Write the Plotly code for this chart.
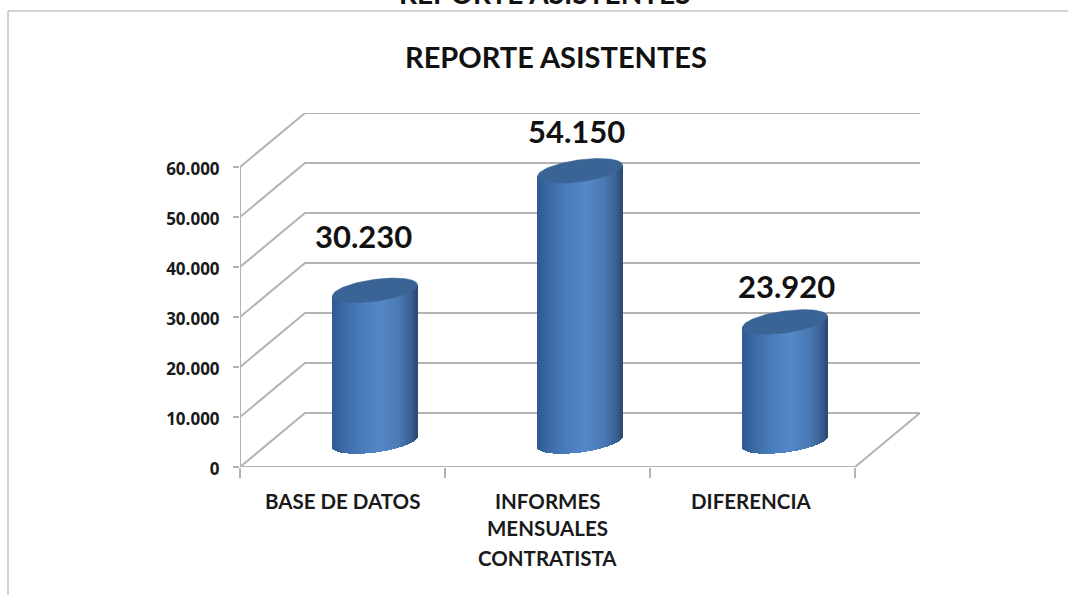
import numpy as np
import plotly.graph_objects as go

# ---- data ----
categories = ["BASE DE DATOS", "INFORMES<br>MENSUALES<br>CONTRATISTA", "DIFERENCIA"]
values = [30230, 54150, 23920]
value_labels = ["30.230", "54.150", "23.920"]
tick_values = [0, 10000, 20000, 30000, 40000, 50000, 60000]
tick_labels = ["0", "10.000", "20.000", "30.000", "40.000", "50.000", "60.000"]
title_text = "REPORTE ASISTENTES"

# ---- layout constants (pixels) ----
W, H = 1068, 595
L, R, T, B = 240, 920, 113, 467
CAT_PX = 205.0            # pixels per category
VAL_PX = 50.0 / 10000.0   # pixels per unit
DEPTH_X = 65.0 / CAT_PX   # depth offset of the back wall, in category units
DEPTH_Y = 54.0 / VAL_PX   # depth offset of the back wall, in value units
XMIN, XMAX = -0.5, 2.5 + DEPTH_X
YMAX = (B - T) / VAL_PX
GRID = "#b3b3b3"
FONT = "Lato"
label_shift_x = [-12, -4, 1]
label_shift_y = [54, 40, 36]
cat_shift_x = [0, 0, -2]
cat_line_y = [34, 61, 91]

fig = go.Figure()

# walls and floor
gx, gy = [], []
for v in tick_values:
    gx += [-0.5, -0.5 + DEPTH_X, XMAX, None]
    gy += [v, v + DEPTH_Y, v + DEPTH_Y, None]
gx += [-0.5, 2.5, XMAX, None, -0.5, -0.5]
gy += [0, 0, DEPTH_Y, None, 0, max(tick_values)]
fig.add_trace(go.Scatter(x=gx, y=gy, mode="lines", cliponaxis=False, hoverinfo="skip",
                         line=dict(color=GRID, width=2), showlegend=False))

# cylinders
half_w = 42.5 / CAT_PX
skew = 5.5 / VAL_PX
minor = 11.0 / VAL_PX
floor_mid = 5100.0
offset_x = DEPTH_X / 2
stops = [0.0, 0.12, 0.35, 0.58, 0.8, 0.94, 1.0]
reds = [0x2f, 0x3a, 0x4a, 0x55, 0x4a, 0x38, 0x29]
greens = [0x5a, 0x68, 0x7d, 0x88, 0x78, 0x5e, 0x49]
blues = [0x92, 0xa3, 0xbc, 0xc9, 0xb3, 0x90, 0x70]

N = 85
fr = (np.arange(N) + 0.5) / N
u = 2 * fr - 1
strip_colors = [
    "rgb(%d,%d,%d)" % (np.interp(f, stops, reds), np.interp(f, stops, greens), np.interp(f, stops, blues))
    for f in fr
]
for i, v in enumerate(values):
    cx = i + offset_x
    bottom = floor_mid + skew * u - minor * np.sqrt(1 - u**2)
    top = floor_mid + v + skew * u
    fig.add_trace(go.Bar(x=cx + u * half_w, y=top - bottom, base=bottom,
                         width=2.4 * half_w / N, xaxis="x2", yaxis="y2",
                         marker=dict(color=strip_colors, line=dict(width=0)),
                         hoverinfo="skip", showlegend=False))
t = np.linspace(0, 2 * np.pi, 121)
for i, v in enumerate(values):
    cx = i + offset_x
    fig.add_trace(go.Scatter(
        x=cx + half_w * np.cos(t),
        y=floor_mid + v + skew * np.cos(t) + minor * np.sin(t),
        mode="lines", fill="toself", fillcolor="#3a6496",
        line=dict(color="#3a6496", width=0.5),
        xaxis="x2", yaxis="y2", hoverinfo="skip", showlegend=False))

annotations = []
for i, v in enumerate(values):
    annotations.append(dict(x=i + offset_x, y=v + floor_mid, xref="x", yref="y",
                            xshift=label_shift_x[i], yshift=label_shift_y[i],
                            text=value_labels[i], showarrow=False, xanchor="center", yanchor="middle",
                            font=dict(family=FONT, size=31, color="#111111", weight=700)))
for i, c in enumerate(categories):
    for j, line in enumerate(c.split("<br>")):
        annotations.append(dict(x=i, y=0, xref="x", yref="y", xshift=cat_shift_x[i], yshift=-cat_line_y[j],
                                text=line, showarrow=False, xanchor="center", yanchor="middle",
                                font=dict(family=FONT, size=20.5, color="#1a1a1a", weight=700)))

def px(x):
    return (x - L) / (R - L)
def py(y):
    return (B - y) / (B - T)

# chart title and the cut-off title above the frame
annotations.append(dict(x=px(556), y=py(57), xref="paper", yref="paper",
                        text=title_text, showarrow=False, xanchor="center", yanchor="middle",
                        font=dict(family=FONT, size=29, color="#111111", weight=700)))
annotations.append(dict(x=px(545), y=py(12), xref="paper", yref="paper",
                        text=title_text, showarrow=False, xanchor="center", yanchor="bottom",
                        font=dict(family=FONT, size=28, color="#111111", weight=700)))

frame = [
    dict(type="line", xref="paper", yref="paper", x0=px(8), x1=px(W), y0=py(11), y1=py(11),
         line=dict(color="#c4c4c4", width=1.5)),
    dict(type="line", xref="paper", yref="paper", x0=px(8), x1=px(8), y0=py(11), y1=py(H),
         line=dict(color="#c4c4c4", width=1.5)),
]

fig.update_layout(
    width=W, height=H, paper_bgcolor="white", plot_bgcolor="white",
    margin=dict(l=L, r=W - R, t=T, b=H - B, autoexpand=False),
    barmode="overlay", bargap=0, showlegend=False,
    annotations=annotations, shapes=frame,
    xaxis=dict(range=[XMIN, XMAX], showgrid=False, zeroline=False, showline=False,
               tickmode="linear", tick0=-0.5, dtick=1, ticks="outside", ticklen=10,
               tickcolor=GRID, tickwidth=1.5, showticklabels=False),
    yaxis=dict(range=[0, YMAX], showgrid=False, zeroline=False, showline=False,
               tickmode="array", tickvals=tick_values, ticktext=tick_labels,
               ticks="outside", ticklen=6, tickcolor=GRID, tickwidth=1.5,
               ticklabelstandoff=10, ticklabelshift=2,
               tickfont=dict(family="Open Sans", size=17, color="#1a1a1a", weight=700)),
    xaxis2=dict(range=[XMIN, XMAX], overlaying="x", visible=False),
    yaxis2=dict(range=[0, YMAX], overlaying="y", visible=False),
)
fig.write_html("out.html", config=dict(displayModeBar=False),
               post_script="document.body.style.margin='0';document.body.style.overflow='hidden';")
